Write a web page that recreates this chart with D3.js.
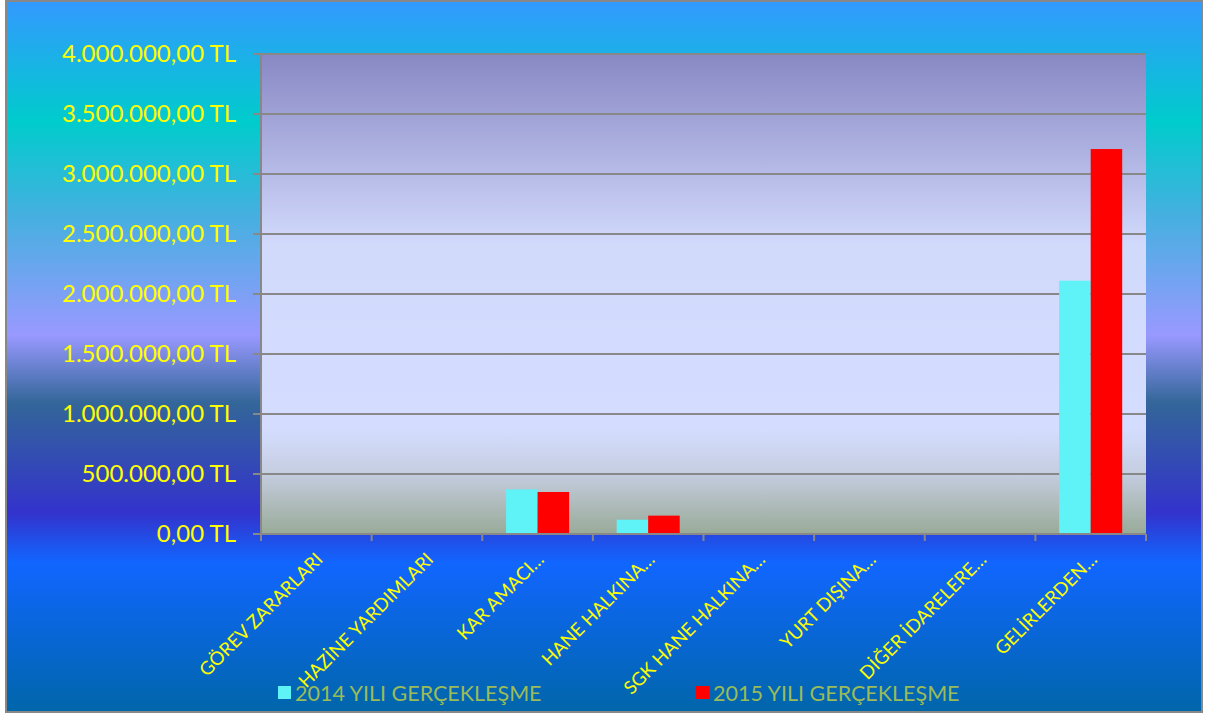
<!DOCTYPE html>
<html><head><meta charset="utf-8">
<script src="https://cdn.jsdelivr.net/npm/d3@7"></script>
<style>html,body{margin:0;padding:0;overflow:hidden;background:#fff}</style>
</head><body>
<svg id="c" width="1208" height="715"></svg>
<script>
const categories = ["GÖREV ZARARLARI","HAZİNE YARDIMLARI","KAR AMACI…","HANE HALKINA…","SGK HANE HALKINA…","YURT DIŞINA…","DİĞER İDARELERE…","GELİRLERDEN…"];
const series2014 = [0, 0, 372000, 119000, 0, 0, 0, 2111000];
const series2015 = [0, 0, 350000, 153000, 0, 0, 0, 3208000];
const seriesNames = ["2014 YILI GERÇEKLEŞME","2015 YILI GERÇEKLEŞME"];
const seriesColors = ["#5ff2f6","#ff0000"];
const yTicks = [0,500000,1000000,1500000,2000000,2500000,3000000,3500000,4000000];

const W=1208,H=715;
const m={l:261,r:1146,t:54,b:534};
const svg=d3.select("#c");
const defs=svg.append("defs");
const bg=defs.append("linearGradient").attr("id","bg").attr("x1",0).attr("y1",0).attr("x2",0).attr("y2",1);
[[0,"#3399ff"],[0.17,"#00cccc"],[0.3,"#44b0e0"],[0.47,"#9999ff"],[0.565,"#336699"],[0.72,"#3333cc"],[0.79,"#1166ff"],[1,"#0066aa"]]
 .forEach(([o,c])=>bg.append("stop").attr("offset",o).attr("stop-color",c));
const pg=defs.append("linearGradient").attr("id","pg").attr("x1",0).attr("y1",0).attr("x2",0).attr("y2",1);
[[0,"#8888c4"],[0.4,"#d2dafc"],[0.78,"#d4ddff"],[0.87,"#c6cee2"],[1,"#99aa98"]]
 .forEach(([o,c])=>pg.append("stop").attr("offset",o).attr("stop-color",c));

svg.append("rect").attr("x",6).attr("y",1).attr("width",W-12).attr("height",H-4)
  .attr("fill","url(#bg)").attr("stroke","#888").attr("stroke-width",2);

const x=d3.scaleBand().domain(categories).range([m.l,m.r]).paddingInner(0).paddingOuter(0);
const y=d3.scaleLinear().domain([0,4000000]).range([m.b,m.t]);
const xs=d3.scaleBand().domain([0,1]).range([0,x.bandwidth()]).paddingInner(0).paddingOuter(0.755);

svg.append("rect").attr("x",m.l).attr("y",m.t).attr("width",m.r-m.l).attr("height",m.b-m.t).attr("fill","url(#pg)");

// gridlines
svg.append("g").selectAll("line").data(yTicks).join("line")
  .attr("x1",m.l-8).attr("x2",m.r).attr("y1",d=>y(d)).attr("y2",d=>y(d))
  .attr("stroke","#888").attr("stroke-width",2);

const fmt=v=>{const s=d3.format(",.2f")(v);return s.replace(/,/g,"#").replace(".",",").replace(/#/g,".")+" TL";};
svg.append("g").selectAll("text").data(yTicks).join("text")
  .attr("x",236).attr("y",d=>y(d)).attr("dy","0.35em").attr("text-anchor","end")
  .attr("fill","#ffff00").style("font-family","Lato").style("font-size","24px").text(fmt);

// bars
const data=categories.map((c,i)=>({c,v:[series2014[i],series2015[i]]}));
const g=svg.append("g");
data.forEach(d=>{
  d.v.forEach((v,j)=>{
    if(v<=0) return;
    g.append("rect").attr("x",x(d.c)+xs(j)).attr("y",y(v)).attr("width",xs.bandwidth()).attr("height",y(0)-y(v))
     .attr("fill",seriesColors[j]);
  });
});

// axes lines
svg.append("line").attr("x1",m.l).attr("x2",m.l).attr("y1",m.t).attr("y2",m.b).attr("stroke","#888").attr("stroke-width",2);
svg.append("line").attr("x1",m.l).attr("x2",m.r).attr("y1",m.b).attr("y2",m.b).attr("stroke","#888").attr("stroke-width",2);
const tickX=categories.map(c=>x(c)).concat([m.r]);
svg.append("g").selectAll("line").data(tickX).join("line")
  .attr("x1",d=>d).attr("x2",d=>d).attr("y1",m.b).attr("y2",m.b+7).attr("stroke","#888").attr("stroke-width",2);

svg.append("g").selectAll("text").data(categories).join("text")
  .attr("transform",c=>`translate(${x(c)+x.bandwidth()/2+3},${m.b+22}) rotate(-45)`)
  .attr("text-anchor","end").attr("dy","0.35em")
  .attr("fill","#ffff00").style("font-family","Lato").style("font-size","18.5px").text(d=>d);

// legend
const lx=[278,696];
seriesNames.forEach((n,i)=>{
  svg.append("rect").attr("x",lx[i]).attr("y",686).attr("width",13).attr("height",13).attr("fill",seriesColors[i]);
  svg.append("text").attr("x",lx[i]+17).attr("y",701).attr("fill","#9bbb59")
    .style("font-family","Lato").style("font-size","21.5px").text(n);
});
</script>
</body></html>
